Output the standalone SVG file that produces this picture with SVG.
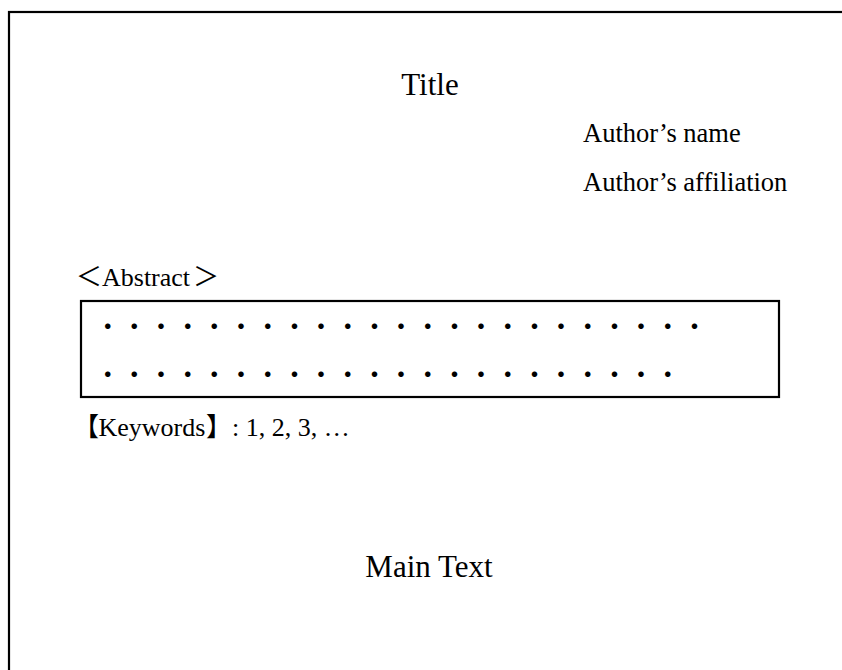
<svg xmlns="http://www.w3.org/2000/svg" width="842" height="670" viewBox="0 0 842 670">
<style>
.t{font-family:"Liberation Serif","Noto Sans CJK JP",serif;fill:#000;}
.cjk{font-family:"Noto Sans CJK JP",sans-serif;}
.line{fill:none;stroke:#000;stroke-width:2.2;}
</style>
<rect x="0" y="0" width="842" height="670" fill="#fff"/>
<g id="page">
<rect class="line" x="9" y="12" width="900" height="720"/>
</g>
<g id="title"><text class="t" x="430" y="95" font-size="31" text-anchor="middle">Title</text></g>
<g id="author-name"><text class="t" x="583" y="142" font-size="26.5">Author’s name</text></g>
<g id="author-affiliation"><text class="t" x="583" y="191" font-size="26.5">Author’s affiliation</text></g>
<g id="abstract-label"><text class="t" y="286" font-size="26"><tspan class="cjk" x="76">＜</tspan><tspan x="102">Abstract</tspan><tspan class="cjk" x="193">＞</tspan></text></g>
<g id="abstract-box">
<rect class="line" x="81" y="301" width="698" height="96"/>
<text class="cjk" x="94.7" y="336" font-size="26" letter-spacing="0.67">・・・・・・・・・・・・・・・・・・・・・・・</text>
<text class="cjk" x="94.7" y="384" font-size="26" letter-spacing="0.67">・・・・・・・・・・・・・・・・・・・・・・</text>
</g>
<g id="keywords"><text class="t" y="436" font-size="26"><tspan class="cjk" x="73">【</tspan><tspan x="98.5">Keywords</tspan><tspan class="cjk" x="206">】</tspan><tspan x="232">: 1, 2, 3, …</tspan></text></g>
<g id="main-text"><text class="t" x="429" y="577" font-size="31" text-anchor="middle">Main Text</text></g>
</svg>
